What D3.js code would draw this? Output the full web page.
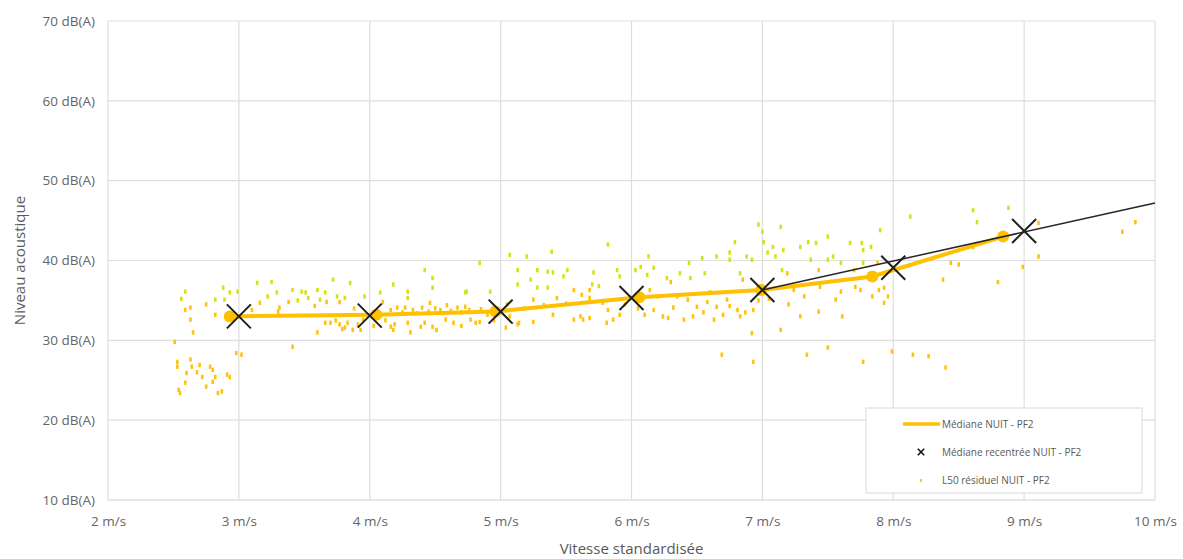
<!DOCTYPE html>
<html>
<head>
<meta charset="utf-8">
<script src="https://cdn.jsdelivr.net/npm/d3@7"></script>
<style>
  body { margin: 0; background: #fff; }
  text { font-family: "Open Sans", sans-serif; }
</style>
</head>
<body>
<svg id="chart" width="1183" height="559"></svg>
<script>
// median of the night noise level, per wind speed
const medianX = [2.93, 4.05, 4.96, 6.06, 6.99, 7.84, 8.84];
const medianY = [33.0, 33.2, 33.6, 35.4, 36.3, 38.0, 43.0];

// recentred median (X markers)
const recentX = [3, 4, 5, 6, 7, 8, 9];
const recentY = [33.0, 33.1, 33.6, 35.3, 36.3, 39.1, 43.7];

// black trend line after 7 m/s
const trendX = [7, 10];
const trendY = [36.3, 47.2];

// L50 residual points [speed, level]
const l50Points = [
  [2.53,27.3],[2.53,26.7],[2.63,27.6],[2.64,26.7],[2.70,26.9],[2.72,25.4],[2.78,26.7],[2.80,24.8],
  [2.80,26.3],[2.82,25.4],[2.84,23.4],[2.87,23.6],[2.91,25.7],[2.93,25.4],[2.54,23.8],[2.55,23.4],
  [2.59,24.7],[2.60,25.9],[2.75,24.2],[2.68,26.0],
  [2.59,36.1],[2.63,34.1],[2.59,33.8],[2.63,32.6],[2.65,31.0],[2.82,35.1],[2.88,36.6],[2.89,35.1],
  [2.93,36.0],[2.99,36.1],[2.82,33.2],[2.51,29.8],[2.98,28.4],[3.02,28.2],[2.75,34.5],[2.56,35.2],
  [3.14,37.2],[3.25,37.3],[3.29,36.0],[3.38,34.8],[3.41,36.3],[3.48,36.1],[3.51,36.0],[3.53,35.3],
  [3.60,36.3],[3.62,35.1],[3.66,36.0],[3.67,34.8],[3.72,37.6],[3.75,35.5],[3.77,34.8],[3.81,35.3],
  [3.85,37.2],[3.16,34.7],[3.30,33.6],[3.31,34.1],[3.60,31.0],[3.41,29.2],[3.66,32.2],[3.70,32.2],
  [3.74,32.5],[3.77,32.0],[3.81,31.6],[3.83,32.2],[3.87,31.3],[3.91,32.0],[3.93,31.3],[3.79,31.4],
  [3.95,32.6],[3.58,34.3],[3.45,35.0],[3.22,35.5],[3.10,33.8],[3.88,34.0],[3.96,35.5],
  [4.16,31.7],[4.18,31.3],[4.16,33.8],[4.18,37.0],[4.10,34.8],[4.29,36.1],[4.29,35.3],[4.21,34.1],
  [4.27,34.1],[4.33,33.8],[4.40,34.1],[4.46,34.7],[4.50,34.0],[4.54,33.8],[4.59,34.4],[4.67,34.1],
  [4.73,34.2],[4.76,33.8],[4.74,36.1],[4.48,36.6],[4.48,37.8],[4.42,38.8],[4.19,32.0],[4.29,32.2],
  [4.31,31.0],[4.39,31.7],[4.42,32.2],[4.48,31.7],[4.51,31.3],[4.64,32.2],[4.77,32.6],[4.81,32.2],
  [4.84,32.3],[4.73,36.0],[4.92,36.1],[4.84,39.7],[4.12,32.5],[4.25,33.5],[4.36,33.4],[4.45,33.6],
  [4.56,33.4],[4.62,33.7],[4.70,33.5],[4.85,33.9],[4.90,33.2],[4.03,31.8],[4.08,36.0],[4.58,32.6],
  [4.70,31.8],[4.95,32.5],
  [5.04,31.6],[5.13,32.0],[5.07,33.0],[5.07,40.7],[5.20,40.5],[5.39,41.1],[5.13,38.8],[5.28,38.8],
  [5.36,38.6],[5.40,38.5],[5.48,38.0],[5.51,38.8],[5.13,37.0],[5.23,37.6],[5.28,36.6],[5.36,36.6],
  [5.25,35.1],[5.43,35.3],[5.56,36.3],[5.62,35.7],[5.68,35.3],[5.71,38.5],[5.70,37.0],[5.78,34.7],
  [5.82,33.8],[5.89,38.8],[5.91,38.0],[5.82,42.0],[5.40,33.2],[5.56,32.6],[5.61,33.0],[5.63,32.6],
  [5.68,32.8],[5.81,32.2],[5.86,32.6],[5.91,33.2],[5.14,32.2],[5.25,32.3],[5.68,36.3],[5.05,34.5],
  [5.18,34.0],[5.33,34.4],[5.50,34.6],[5.75,36.8],[5.95,34.5],
  [6.03,38.8],[6.07,39.2],[6.13,40.5],[6.12,38.2],[6.17,39.1],[6.14,36.3],[6.27,37.8],[6.30,37.3],
  [6.37,38.4],[6.44,39.7],[6.45,37.8],[6.54,40.3],[6.56,38.4],[6.65,40.5],[6.75,41.0],[6.79,42.3],
  [6.75,40.1],[6.83,38.4],[6.85,37.6],[6.88,40.5],[6.92,40.1],[6.97,44.5],[6.17,33.8],[6.24,33.0],
  [6.32,34.1],[6.40,32.6],[6.43,35.1],[6.50,34.2],[6.55,33.5],[6.58,34.8],[6.63,32.6],[6.65,34.2],
  [6.73,35.1],[6.75,34.3],[6.81,33.8],[6.83,33.0],[6.87,33.5],[6.93,33.8],[6.35,35.5],[6.20,35.5],
  [6.60,36.0],[6.92,30.9],[6.69,28.2],[6.93,27.3],[6.05,34.0],[6.10,33.2],[6.28,32.8],[6.47,33.0],
  [6.70,33.2],[6.97,35.0],
  [7.00,43.6],[7.01,42.3],[7.04,41.0],[7.08,41.7],[7.10,40.5],[7.14,44.2],[7.15,38.8],[7.16,41.3],
  [7.19,38.4],[7.24,36.3],[7.29,41.7],[7.35,42.3],[7.37,40.1],[7.41,42.2],[7.43,38.8],[7.44,36.7],
  [7.50,43.0],[7.50,40.1],[7.54,40.5],[7.60,39.7],[7.60,36.1],[7.61,33.0],[7.67,42.2],[7.70,38.8],
  [7.71,36.7],[7.56,35.1],[7.43,33.6],[7.29,33.0],[7.14,31.3],[7.34,28.2],[7.50,29.1],[7.76,42.2],
  [7.77,41.3],[7.83,41.7],[7.90,43.8],[7.88,39.7],[7.77,39.7],[7.89,36.3],[7.93,36.6],[7.96,35.5],
  [7.93,34.7],[7.84,35.5],[7.75,36.3],[7.77,27.3],[7.05,35.2],[7.20,34.5],[7.32,35.5],
  [7.99,28.6],[8.15,28.2],[8.27,28.0],[8.40,26.6],[8.13,45.5],[8.38,37.6],[8.44,39.7],[8.50,39.5],
  [8.61,46.3],[8.64,44.8],[8.80,37.3],[8.88,46.6],[8.99,39.2],[9.11,40.5],[9.11,44.7],[9.75,43.6],
  [9.85,44.8],[8.61,41.7]
];

const xTicks = [2, 3, 4, 5, 6, 7, 8, 9, 10];
const yTicks = [10, 20, 30, 40, 50, 60, 70];

const legendLabels = ["Médiane NUIT - PF2", "Médiane recentrée NUIT - PF2", "L50 résiduel NUIT - PF2"];

const margin = { left: 108, right: 28, top: 21, bottom: 59 };
const width = 1183 - margin.left - margin.right;
const height = 559 - margin.top - margin.bottom;

const svg = d3.select("#chart");
const g = svg.append("g").attr("transform", `translate(${margin.left}, ${margin.top})`);

const xScale = d3.scaleLinear().domain([2, 10]).range([0, width]);
const yScale = d3.scaleLinear().domain([10, 70]).range([height, 0]);

// gridlines
g.append("g")
  .selectAll("line")
  .data(yTicks)
  .join("line")
  .attr("x1", 0)
  .attr("x2", width)
  .attr("y1", (d) => yScale(d))
  .attr("y2", (d) => yScale(d))
  .attr("stroke", (d) => (d === 10 ? "#cfcfcf" : "#dedede"))
  .attr("stroke-width", 1.2);

g.append("g")
  .selectAll("line")
  .data(xTicks)
  .join("line")
  .attr("x1", (d) => xScale(d))
  .attr("x2", (d) => xScale(d))
  .attr("y1", 0)
  .attr("y2", height)
  .attr("stroke", "#dedede")
  .attr("stroke-width", 1.2);

// axes (labels only)
const yAxis = g.append("g")
  .call(d3.axisLeft(yScale).tickValues(yTicks).tickSize(0).tickPadding(13).tickFormat((d) => d + " dB(A)"));
yAxis.select(".domain").remove();
yAxis.selectAll("text").attr("fill", "#666").style("font-size", "13.5px");

const xAxis = g.append("g")
  .attr("transform", `translate(0, ${height})`)
  .call(d3.axisBottom(xScale).tickValues(xTicks).tickSize(0).tickPadding(16).tickFormat((d) => d + " m/s"));
xAxis.select(".domain").remove();
xAxis.selectAll("text").attr("fill", "#666").style("font-size", "13.5px");

svg.append("text")
  .attr("transform", `translate(25, ${margin.top + height / 2}) rotate(-90)`)
  .attr("text-anchor", "middle")
  .attr("fill", "#595959")
  .style("font-size", "15px")
  .text("Niveau acoustique");

svg.append("text")
  .attr("x", margin.left + width / 2)
  .attr("y", 554)
  .attr("text-anchor", "middle")
  .attr("fill", "#595959")
  .style("font-size", "15px")
  .text("Vitesse standardisée");

// median for colouring the residual points
function medianAt(x) {
  let i = d3.bisectLeft(medianX, x);
  if (i <= 0) return medianY[0];
  if (i >= medianX.length) return medianY[medianY.length - 1];
  let t = (x - medianX[i - 1]) / (medianX[i] - medianX[i - 1]);
  return medianY[i - 1] + t * (medianY[i] - medianY[i - 1]);
}

// scatter
g.append("g")
  .selectAll("rect")
  .data(l50Points)
  .join("rect")
  .attr("x", (d) => xScale(d[0]) - 1.3)
  .attr("y", (d) => yScale(d[1]) - 2.2)
  .attr("width", 2.6)
  .attr("height", 4.4)
  .attr("fill", (d) => (d[1] - medianAt(d[0]) > 1.8 ? "#d4e21a" : "#ffc20e"));

// median line
const median = medianX.map((x, i) => ({ x: x, y: medianY[i] }));
const line = d3.line().x((d) => xScale(d.x)).y((d) => yScale(d.y));

g.append("path")
  .datum(median)
  .attr("d", line)
  .attr("fill", "none")
  .attr("stroke", "#ffc000")
  .attr("stroke-width", 4)
  .attr("stroke-linejoin", "round");

g.append("g")
  .selectAll("circle")
  .data(median)
  .join("circle")
  .attr("cx", (d) => xScale(d.x))
  .attr("cy", (d) => yScale(d.y))
  .attr("r", 6)
  .attr("fill", "#ffc000");

// trend line
const trend = trendX.map((x, i) => ({ x: x, y: trendY[i] }));
g.append("path")
  .datum(trend)
  .attr("d", line)
  .attr("fill", "none")
  .attr("stroke", "#262626")
  .attr("stroke-width", 1.5);

// X markers
const recent = recentX.map((x, i) => ({ x: x, y: recentY[i] }));
const cross = (s) => `M${-s},${-s}L${s},${s}M${-s},${s}L${s},${-s}`;
g.append("g")
  .selectAll("path")
  .data(recent)
  .join("path")
  .attr("transform", (d) => `translate(${xScale(d.x)}, ${yScale(d.y)})`)
  .attr("d", cross(12))
  .attr("stroke", "#1f1f1f")
  .attr("stroke-width", 2)
  .attr("fill", "none");

// legend
const legend = svg.append("g").attr("transform", "translate(866, 408)");
legend.append("rect")
  .attr("width", 276)
  .attr("height", 85)
  .attr("fill", "#fff")
  .attr("stroke", "#d9d9d9");

legend.append("line")
  .attr("x1", 37).attr("x2", 74).attr("y1", 16).attr("y2", 16)
  .attr("stroke", "#ffc000").attr("stroke-width", 3.5);
legend.append("path")
  .attr("transform", "translate(55, 44)")
  .attr("d", cross(3.2))
  .attr("stroke", "#111").attr("stroke-width", 1.6);
legend.append("rect")
  .attr("x", 54).attr("y", 71).attr("width", 2).attr("height", 3)
  .attr("fill", "#d4e21a");

legend.selectAll("text.lab")
  .data(legendLabels)
  .join("text")
  .attr("class", "lab")
  .attr("x", 76)
  .attr("y", (d, i) => 16 + i * 28)
  .attr("dy", "0.35em")
  .attr("fill", "#595959")
  .style("font-size", "10px")
  .text((d) => d);
</script>
</body>
</html>
